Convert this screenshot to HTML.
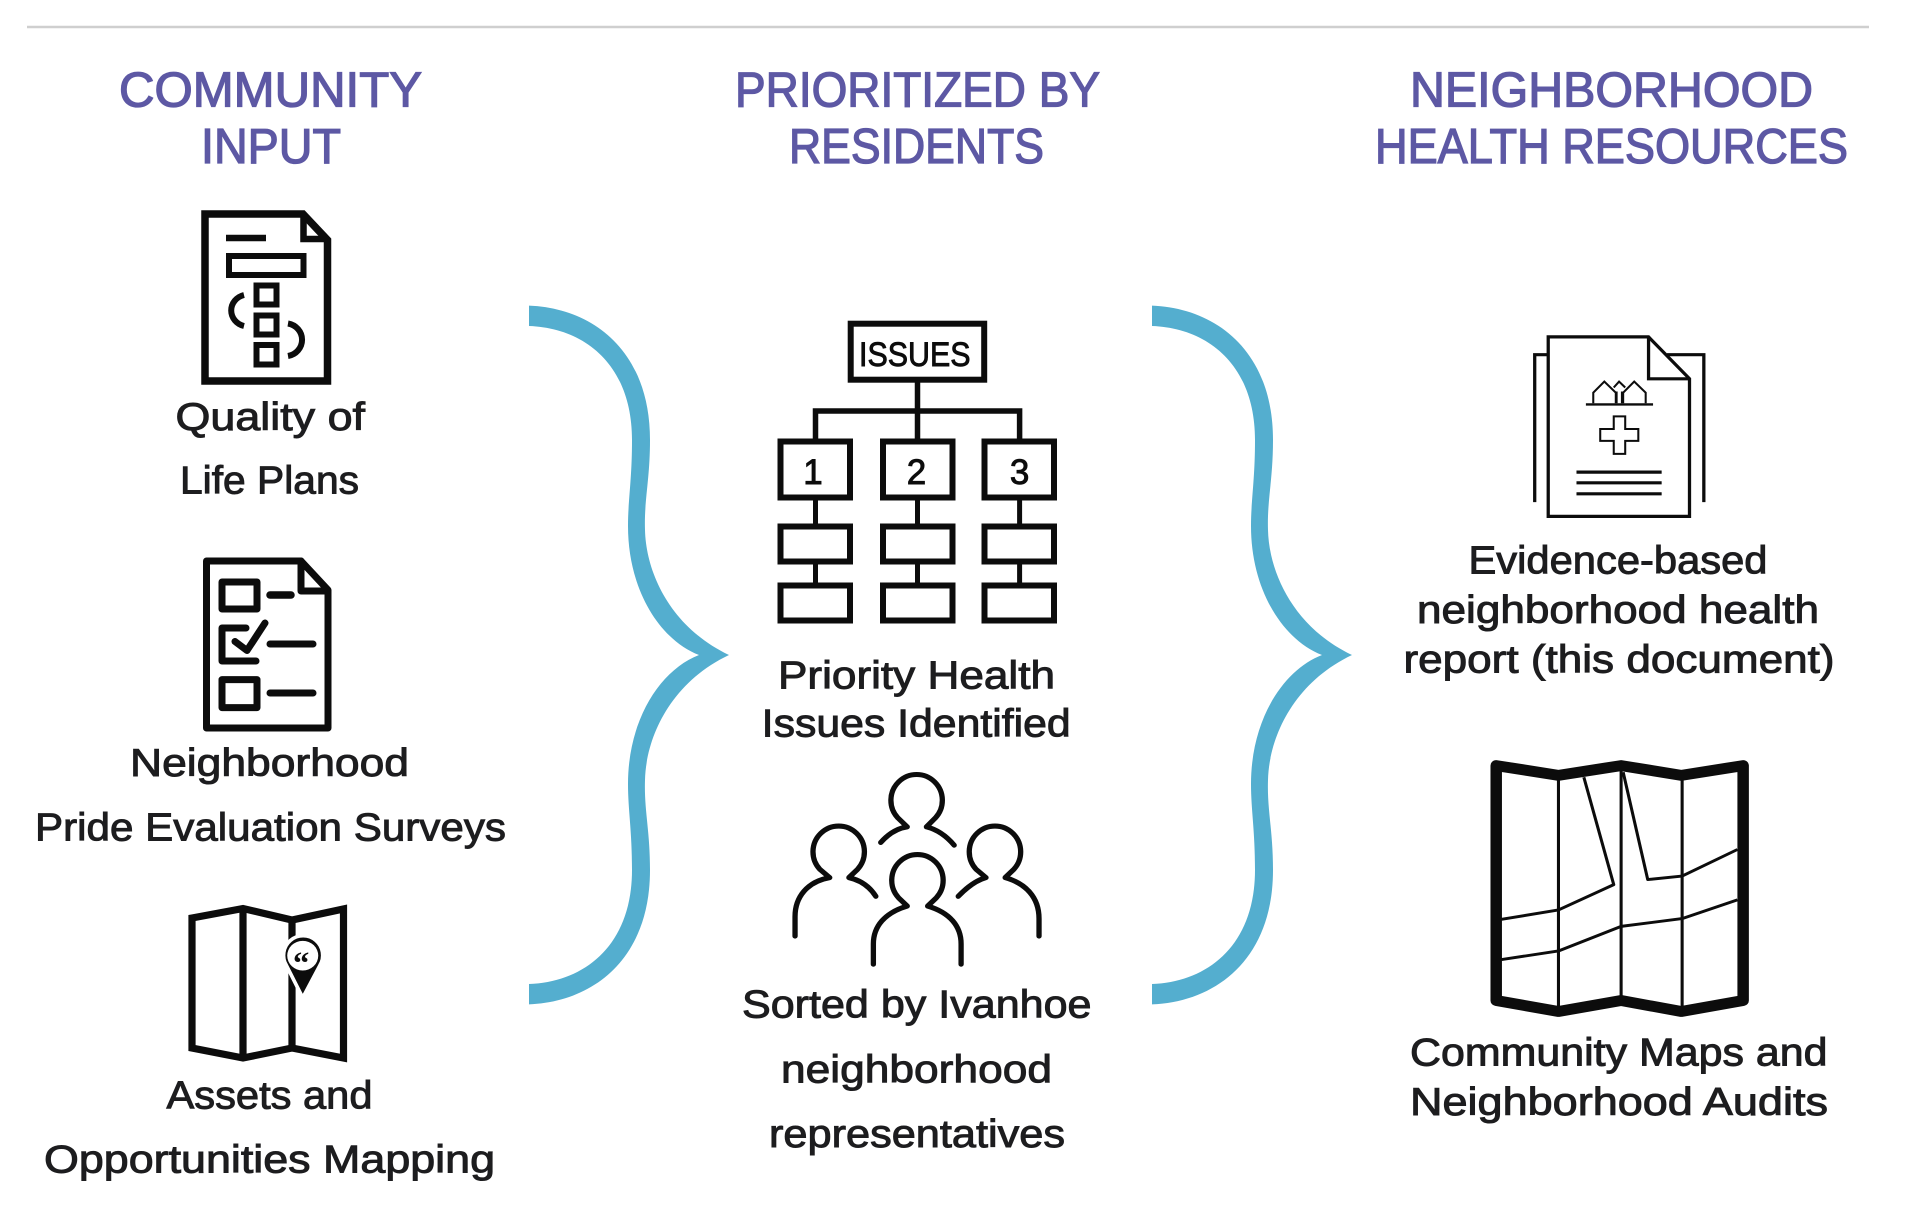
<!DOCTYPE html>
<html lang="en">
<head>
<meta charset="utf-8">
<title>Community input diagram</title>
<style>
html,body{margin:0;padding:0;background:#fff;}
svg{display:block;}
text{font-family:"Liberation Sans",Arial,sans-serif;}
.h{font-size:49px;fill:#5d58a4;stroke:#5d58a4;stroke-width:1.3px;}
.b{font-size:39px;fill:#1d1d1f;stroke:#1d1d1f;stroke-width:.95px;}
.k{fill:none;stroke:#0c0c0c;}
</style>
</head>
<body>
<svg xmlns="http://www.w3.org/2000/svg" width="1922" height="1232" viewBox="0 0 1922 1232">
<rect width="1922" height="1232" fill="#fff"/>
<line x1="27" y1="27" x2="1869" y2="27" stroke="#cfcfcf" stroke-width="2.5"/>

<!-- Headers -->
<text class="h" x="119" y="106.3" textLength="303" lengthAdjust="spacingAndGlyphs">COMMUNITY</text>
<text class="h" x="201" y="163" textLength="140" lengthAdjust="spacingAndGlyphs">INPUT</text>
<text class="h" x="735" y="106.3" textLength="365" lengthAdjust="spacingAndGlyphs">PRIORITIZED BY</text>
<text class="h" x="789" y="163" textLength="255" lengthAdjust="spacingAndGlyphs">RESIDENTS</text>
<text class="h" x="1410" y="106.3" textLength="403" lengthAdjust="spacingAndGlyphs">NEIGHBORHOOD</text>
<text class="h" x="1375" y="163" textLength="473" lengthAdjust="spacingAndGlyphs">HEALTH RESOURCES</text>

<!-- Braces -->
<g fill="#54aecf">
  <path d="M529 305.6C592 308 650 350 650 440C650 480 644 500 645 530C646 572 670 627 729 655C670 683 646 738 645 780C644 810 650 830 650 870C650 960 592 1002 529 1004.4V984C585 982 632 945 632 870C632 830 628 810 628 784C628 720 660 670 699 655C660 640 628 590 628 526C628 500 632 480 632 440C632 365 585 328 529 326Z"/>
  <path transform="translate(623 0)" d="M529 305.6C592 308 650 350 650 440C650 480 644 500 645 530C646 572 670 627 729 655C670 683 646 738 645 780C644 810 650 830 650 870C650 960 592 1002 529 1004.4V984C585 982 632 945 632 870C632 830 628 810 628 784C628 720 660 670 699 655C660 640 628 590 628 526C628 500 632 480 632 440C632 365 585 328 529 326Z"/>
</g>

<!-- Icon 1: Quality of Life document -->
<g class="k" stroke-width="7.5">
  <path d="M205 214H303L327.5 240V381H205Z"/>
  <path d="M303.5 214V239H327.5" stroke-width="6.5"/>
  <line x1="226" y1="238" x2="266" y2="238" stroke-width="6.5"/>
  <rect x="229" y="256" width="74.5" height="19" stroke-width="6"/>
  <rect x="256.5" y="285.5" width="20" height="19" stroke-width="6"/>
  <rect x="256.5" y="315.5" width="20" height="19" stroke-width="6"/>
  <rect x="256.5" y="345" width="20" height="19.5" stroke-width="6"/>
  <path d="M244 295A17 16 0 0 0 244 326" stroke-width="6"/>
  <path d="M288 323.5A17 16.5 0 0 1 288 356" stroke-width="6"/>
</g>

<!-- Icon 2: Survey checklist -->
<g class="k" stroke-width="7" stroke-linejoin="round" stroke-linecap="round">
  <path d="M206.5 561H301L328 590V728H206.5Z"/>
  <path d="M301 561V591H328"/>
  <rect x="222" y="582" width="35" height="27"/>
  <line x1="270" y1="595" x2="291" y2="595" stroke-width="7.5"/>
  <path d="M246 628H222V661H256"/>
  <path d="M235 641.5L247 650.5L265 623" stroke-width="7"/>
  <line x1="270" y1="644" x2="313" y2="644" stroke-width="7"/>
  <rect x="222" y="679.6" width="35" height="28"/>
  <line x1="270" y1="693" x2="313" y2="693" stroke-width="7"/>
</g>

<!-- Icon 3: Folded map with pin -->
<g class="k" stroke-width="7.2" stroke-linejoin="miter">
  <path d="M192 918L243 908.5L292 920L343.5 909V1058L292 1048L243 1058L192 1048Z"/>
  <line x1="243" y1="908" x2="243" y2="1058"/>
  <line x1="292" y1="920" x2="292" y2="1048"/>
</g>
<g transform="translate(0 620) scale(.408 .3903)">
  <path d="M742 968L702 885A48 50 0 1 1 784 885Z" fill="#0c0c0c" stroke="#fff" stroke-width="9"/>
  <circle cx="742" cy="860" r="38" fill="#fff"/>
  <text x="738" y="906" font-size="80" text-anchor="middle" style="font-family:'Liberation Serif',serif;font-weight:bold;fill:#0c0c0c">“</text>
</g>

<!-- Org chart -->
<g class="k" stroke-width="6">
  <rect x="850.7" y="323.7" width="133.5" height="56"/>
  <path d="M917.5 382V439M815.5 439V411H1019.6V439" stroke-width="5.5"/>
  <rect x="780.5" y="441.5" width="69.5" height="56"/>
  <rect x="883" y="441.5" width="69.5" height="56"/>
  <rect x="984.5" y="441.5" width="69.5" height="56"/>
  <rect x="780.5" y="526.5" width="69.5" height="35"/>
  <rect x="883" y="526.5" width="69.5" height="35"/>
  <rect x="984.5" y="526.5" width="69.5" height="35"/>
  <rect x="780.5" y="585.5" width="69.5" height="35"/>
  <rect x="883" y="585.5" width="69.5" height="35"/>
  <rect x="984.5" y="585.5" width="69.5" height="35"/>
  <path d="M815.5 500V524M917.5 500V524M1019.6 500V524M815.5 564V583M917.5 564V583M1019.6 564V583" stroke-width="5"/>
</g>
<text x="859" y="366" font-size="34" textLength="111.5" lengthAdjust="spacingAndGlyphs" fill="#0c0c0c" stroke="#0c0c0c" stroke-width=".9">ISSUES</text>
<g font-size="35" text-anchor="middle" fill="#0c0c0c" stroke="#0c0c0c" stroke-width=".9">
  <text x="813" y="484">1</text>
  <text x="916.5" y="484">2</text>
  <text x="1019.6" y="484">3</text>
</g>

<!-- People -->
<g transform="translate(640 620) scale(.408 .3903)" fill="none" stroke="#0c0c0c" stroke-width="13" stroke-linecap="round" stroke-linejoin="round">
  <path d="M590 570Q620 535 655 530L632 507A63 66 0 1 1 724 507L702 530Q740 540 770 577"/>
  <path d="M380 810V760C380 710 410 670 465 660L441 639A63 66 0 1 1 533 639L512 660Q555 670 578 708"/>
  <path d="M780 708Q815 670 848 660L824 639A63 66 0 1 1 916 639L895 660C945 675 978 710 978 765V810"/>
  <path d="M572 882V830C572 785 600 750 655 733L634 712A63 66 0 1 1 726 712L705 733C760 750 787 785 787 830V882"/>
</g>

<!-- Report doc -->
<g transform="translate(1280 0) scale(.4095 .3954)" fill="none" stroke="#0c0c0c" stroke-width="8">
  <path d="M622 1270V897H655M945 897H1035V1270"/>
  <path d="M655 852H900L1000 958V1306H655Z"/>
  <path d="M900 852V958H1000"/>
  <line x1="747" y1="1023" x2="911" y2="1023" stroke-width="6"/>
  <path d="M765 1020V993L792 965L820 993V1020M838 1020V993L865 965L893 993V1020M815 980L828 965L843 980M822 990V1020M835 990V1020" stroke-width="5"/>
  <path d="M815 1053H843V1085H875V1115H843V1148H815V1115H782V1085H815Z" stroke-width="5"/>
  <path d="M724 1194H932M724 1221H932M724 1249H932"/>
</g>

<!-- Big map -->
<g transform="translate(1280 620) scale(.4095 .3903)" fill="none" stroke="#0c0c0c" stroke-linejoin="round">
  <path d="M528 373L680 398L833 373L980 398L1131 373V975L980 1003L833 975L680 1003L528 975Z" stroke-width="28"/>
  <path d="M680 400V1000M833 378V975M982 400V1000" stroke-width="7.5"/>
  <path d="M541 767L680 743L815 678L742 403M838 390L898 665L982 656L1117 588M541 870L680 848L833 785L982 765L1117 717" stroke-width="7.5"/>
</g>

<!-- Labels -->
<text class="b" x="175.5" y="430" textLength="189.5" lengthAdjust="spacingAndGlyphs">Quality of</text>
<text class="b" x="180" y="493.5" textLength="179" lengthAdjust="spacingAndGlyphs">Life Plans</text>
<text class="b" x="130" y="776" textLength="279" lengthAdjust="spacingAndGlyphs">Neighborhood</text>
<text class="b" x="35" y="840.5" textLength="471" lengthAdjust="spacingAndGlyphs">Pride Evaluation Surveys</text>
<text class="b" x="166.5" y="1108.7" textLength="206" lengthAdjust="spacingAndGlyphs">Assets and</text>
<text class="b" x="44" y="1172.3" textLength="451" lengthAdjust="spacingAndGlyphs">Opportunities Mapping</text>

<text class="b" x="778" y="688.3" textLength="277" lengthAdjust="spacingAndGlyphs">Priority Health</text>
<text class="b" x="761.7" y="736.3" textLength="309" lengthAdjust="spacingAndGlyphs">Issues Identified</text>
<text class="b" x="742" y="1017.3" textLength="349.5" lengthAdjust="spacingAndGlyphs">Sorted by Ivanhoe</text>
<text class="b" x="781" y="1082.5" textLength="271" lengthAdjust="spacingAndGlyphs">neighborhood</text>
<text class="b" x="769" y="1147" textLength="296" lengthAdjust="spacingAndGlyphs">representatives</text>

<text class="b" x="1468.5" y="573.3" textLength="299" lengthAdjust="spacingAndGlyphs">Evidence-based</text>
<text class="b" x="1417" y="623" textLength="402" lengthAdjust="spacingAndGlyphs">neighborhood health</text>
<text class="b" x="1403.5" y="672.7" textLength="431" lengthAdjust="spacingAndGlyphs">report (this document)</text>
<text class="b" x="1410" y="1065.7" textLength="417.5" lengthAdjust="spacingAndGlyphs">Community Maps and</text>
<text class="b" x="1410" y="1115" textLength="418" lengthAdjust="spacingAndGlyphs">Neighborhood Audits</text>
</svg>
</body>
</html>
